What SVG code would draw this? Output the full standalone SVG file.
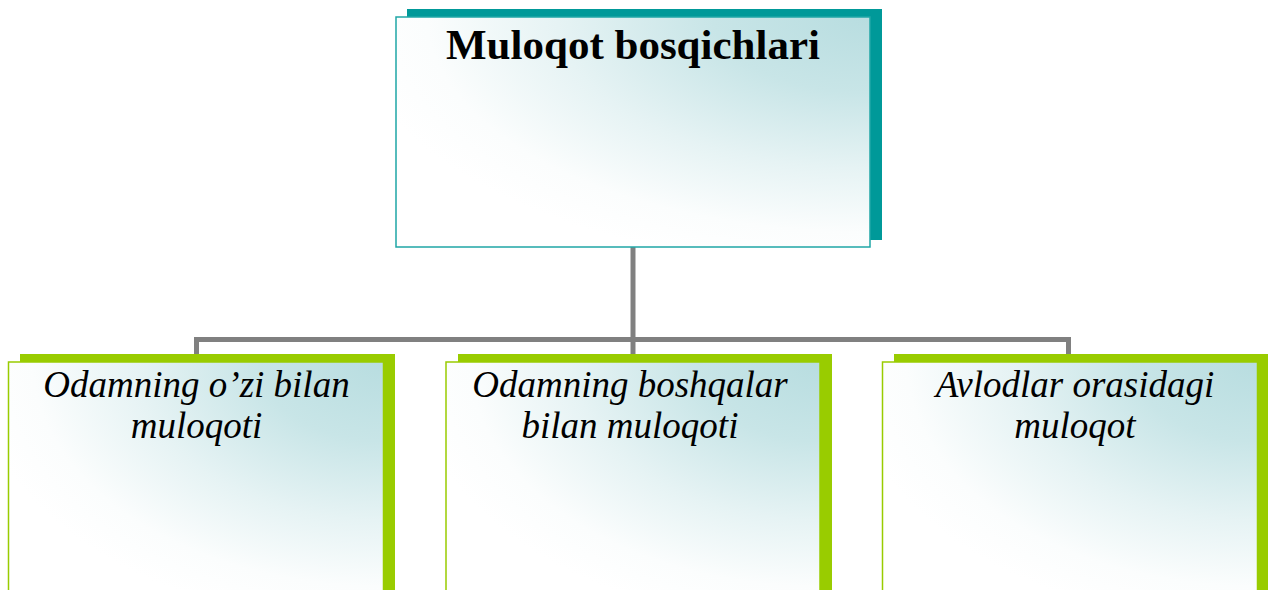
<svg xmlns="http://www.w3.org/2000/svg" width="1268" height="590" viewBox="0 0 1268 590">
<style>
.conn{stroke:#808080;stroke-width:5;fill:none}
.shT{fill:#009999}
.shG{fill:#99CC00}
.frT{fill:url(#fill);stroke:#1FA6A6;stroke-width:1.5}
.frG{fill:url(#fill);stroke:#99CC00;stroke-width:1.5}
.title{font-family:'Liberation Serif','Times New Roman',serif;font-weight:bold;font-size:43px;fill:#000;text-anchor:middle}
.lbl{font-family:'Liberation Serif','Times New Roman',serif;font-style:italic;font-size:37px;fill:#000;text-anchor:middle}
</style>
<defs>
<radialGradient id="fill" cx="1" cy="0" r="1.1" fx="1" fy="0">
<stop offset="0" stop-color="#b8dde0"/>
<stop offset="0.3" stop-color="#c8e5e7"/>
<stop offset="0.6" stop-color="#e6f3f4"/>
<stop offset="0.85" stop-color="#fbfdfd"/>
<stop offset="1" stop-color="#ffffff"/>
</radialGradient>
</defs>
<g id="connectors">
<line class="conn" x1="633" y1="247" x2="633" y2="340"/>
<polyline class="conn" points="196.5,355 196.5,339.5 1068.5,339.5 1068.5,355"/>
<line class="conn" x1="633" y1="339" x2="633" y2="355"/>
</g>
<g id="node-top">
<rect class="shT" x="407" y="9" width="475" height="231"/>
<rect class="frT" x="396" y="17" width="474" height="230"/>
<text class="title" x="633" y="59">Muloqot bosqichlari</text>
</g>
<g id="node-left">
<rect class="shG" x="20" y="354" width="375" height="240"/>
<rect class="frG" x="8.5" y="362" width="375" height="240"/>
<text class="lbl" x="196.5" y="397">Odamning o’zi bilan</text>
<text class="lbl" x="196.5" y="438">muloqoti</text>
</g>
<g id="node-middle">
<rect class="shG" x="458" y="354" width="374" height="240"/>
<rect class="frG" x="446" y="362" width="374" height="240"/>
<text class="lbl" x="630" y="397">Odamning boshqalar</text>
<text class="lbl" x="630" y="438">bilan muloqoti</text>
</g>
<g id="node-right">
<rect class="shG" x="894" y="354" width="376" height="240"/>
<rect class="frG" x="882.5" y="362" width="375" height="240"/>
<text class="lbl" x="1075" y="397">Avlodlar orasidagi</text>
<text class="lbl" x="1075" y="438">muloqot</text>
</g>
</svg>
